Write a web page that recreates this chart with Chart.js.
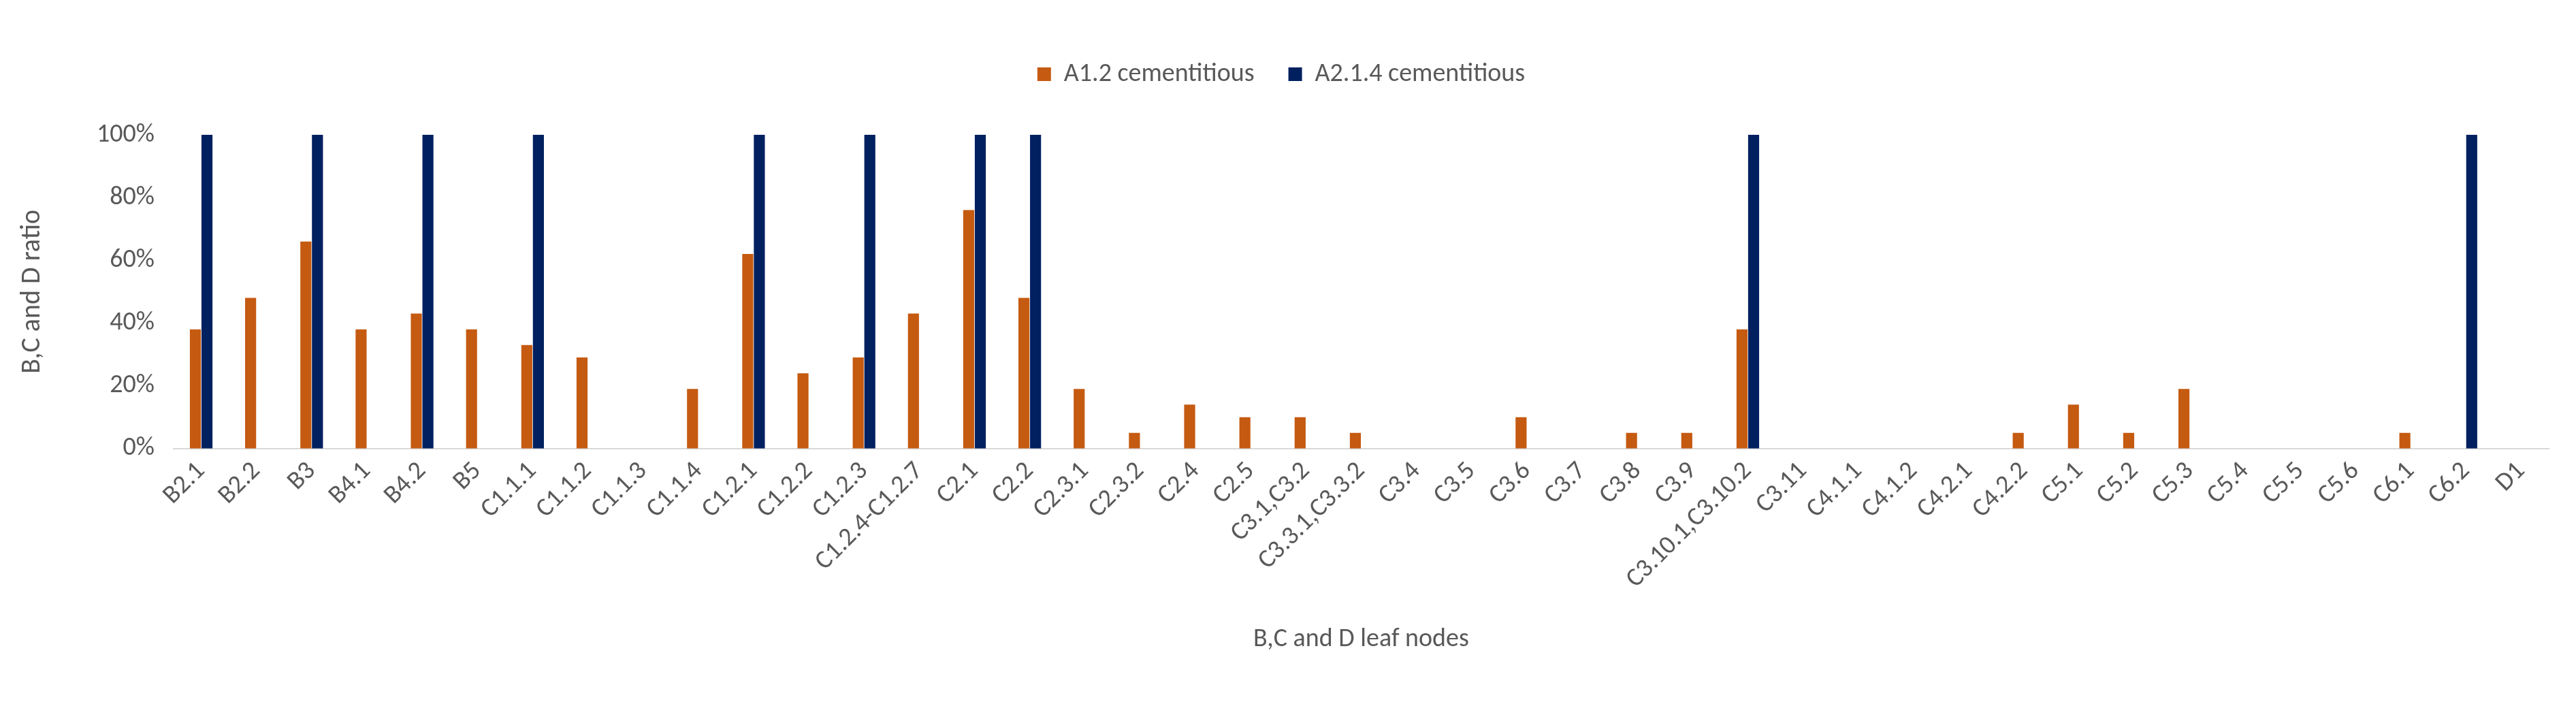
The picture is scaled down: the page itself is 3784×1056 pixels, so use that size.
<!DOCTYPE html>
<html>
<head>
<meta charset="utf-8">
<script src="https://cdn.jsdelivr.net/npm/chart.js@4.4.0/dist/chart.umd.min.js"></script>
<style>html,body{margin:0;padding:0;background:#fff;}</style>
</head>
<body>
<canvas id="c" width="3784" height="1056"></canvas>
<script>
const categories = ["B2.1","B2.2","B3","B4.1","B4.2","B5","C1.1.1","C1.1.2","C1.1.3","C1.1.4","C1.2.1","C1.2.2","C1.2.3","C1.2.4-C1.2.7","C2.1","C2.2","C2.3.1","C2.3.2","C2.4","C2.5","C3.1,C3.2","C3.3.1,C3.3.2","C3.4","C3.5","C3.6","C3.7","C3.8","C3.9","C3.10.1,C3.10.2","C3.11","C4.1.1","C4.1.2","C4.2.1","C4.2.2","C5.1","C5.2","C5.3","C5.4","C5.5","C5.6","C6.1","C6.2","D1"];
const a12 = [38,48,66,38,43,38,33,29,0,19,62,24,29,43,76,48,19,5,14,10,10,5,0,0,10,0,5,5,38,0,0,0,0,5,14,5,19,0,0,0,5,0,0];
const a214 = [100,0,100,0,100,0,100,0,0,0,100,0,100,0,100,100,0,0,0,0,0,0,0,0,0,0,0,0,100,0,0,0,0,0,0,0,0,0,0,0,0,100,0];

const grey = "#595959";
const font = { family: "Calibri, Carlito, 'Liberation Sans', sans-serif", size: 38 };

// extra space under the legend
const legendGap = {
  id: "legendGap",
  beforeInit(chart) {
    const fit = chart.legend.fit;
    chart.legend.fit = function () { fit.bind(chart.legend)(); this.height += 60; };
  }
};

new Chart(document.getElementById("c"), {
  type: "bar",
  data: {
    labels: categories,
    datasets: [
      { label: "A1.2 cementitious", data: a12, backgroundColor: "#C55A11" },
      { label: "A2.1.4 cementitious", data: a214, backgroundColor: "#002060" }
    ]
  },
  options: {
    responsive: false,
    devicePixelRatio: 1,
    animation: false,
    layout: { padding: { left: 20, right: 40, top: 40, bottom: 90 } },
    datasets: { bar: { categoryPercentage: 0.42, barPercentage: 0.95 } },
    plugins: {
      legend: { position: "top", labels: { color: grey, font, boxWidth: 20, boxHeight: 20, padding: 50 } },
      tooltip: { enabled: false }
    },
    scales: {
      x: {
        grid: { display: false },
        border: { color: "#d9d9d9", width: 2 },
        ticks: { color: grey, font, maxRotation: 45, minRotation: 45, autoSkip: false },
        title: { display: true, text: "B,C and D leaf nodes", color: grey, font: { ...font, size: 38 }, padding: { top: 40 } }
      },
      y: {
        min: 0, max: 100,
        grid: { display: false },
        border: { display: false },
        ticks: { stepSize: 20, color: grey, font, padding: 20, callback: v => v + "%" },
        title: { display: true, text: "B,C and D ratio", color: grey, font: { ...font, size: 40 }, padding: { bottom: 50 } }
      }
    }
  },
  plugins: [legendGap]
});
</script>
</body>
</html>
